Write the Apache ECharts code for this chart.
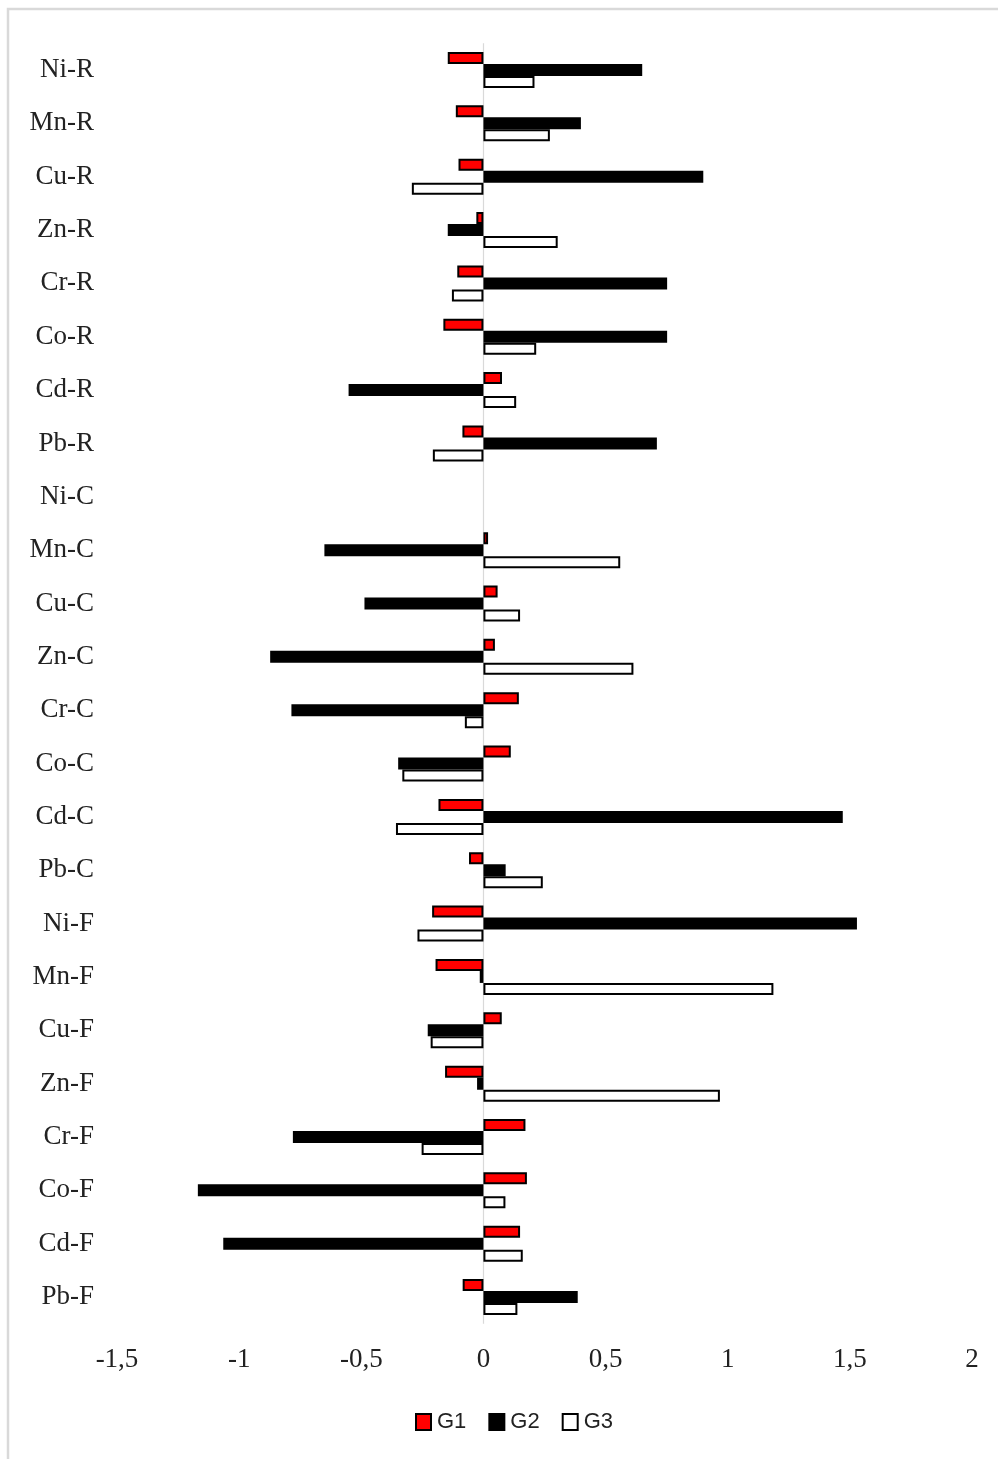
<!DOCTYPE html>
<html>
<head>
<meta charset="utf-8">
<title>G1 G2 G3</title>
<script src="https://cdn.jsdelivr.net/npm/echarts@6/dist/echarts.min.js"></script>
<style>
  html, body { margin: 0; padding: 0; background: #ffffff; }
  #chart { width: 998px; height: 1459px; }
</style>
</head>
<body>
<div id="chart"></div>
<script>
// Categories, listed top to bottom
const categories = ['Ni-R', 'Mn-R', 'Cu-R', 'Zn-R', 'Cr-R', 'Co-R', 'Cd-R', 'Pb-R',
  'Ni-C', 'Mn-C', 'Cu-C', 'Zn-C', 'Cr-C', 'Co-C', 'Cd-C', 'Pb-C',
  'Ni-F', 'Mn-F', 'Cu-F', 'Zn-F', 'Cr-F', 'Co-F', 'Cd-F', 'Pb-F'];

// Ni-C has no values in any group (null = no bar)
const g1 = [-0.146, -0.113, -0.102, -0.029, -0.107, -0.164, 0.076, -0.086,
  null, 0.019, 0.058, 0.047, 0.145, 0.112, -0.184, -0.059,
  -0.210, -0.196, 0.075, -0.157, 0.172, 0.178, 0.150, -0.085];

const g2 = [0.650, 0.399, 0.900, -0.146, 0.752, 0.752, -0.552, 0.710,
  null, -0.651, -0.487, -0.873, -0.786, -0.349, 1.471, 0.091,
  1.529, -0.015, -0.228, -0.026, -0.780, -1.169, -1.065, 0.386];

const g3 = [0.209, 0.272, -0.293, 0.304, -0.129, 0.216, 0.134, -0.207,
  null, 0.560, 0.150, 0.614, -0.076, -0.332, -0.358, 0.243,
  -0.270, 1.187, -0.216, 0.968, -0.253, 0.090, 0.161, 0.139];

const seriesNames = ['G1', 'G2', 'G3'];
const fills = ['#ff0000', '#000000', '#ffffff'];

// Value axis range
const xMin = -1.5, xMax = 2, xStep = 0.5;

const chart = echarts.init(document.getElementById('chart'), null, { renderer: 'canvas' });

const serif = '"Liberation Serif", "DejaVu Serif", serif';

function makeSeries(name, data, fill, idx) {
  const s = {
    name: name,
    type: 'bar',
    data: data,
    barWidth: 12,
    barGap: '0%',
    itemStyle: { color: fill, borderColor: '#000000', borderWidth: 2 },
    emphasis: { disabled: true },
    z: 3
  };
  if (idx === 0) {
    // vertical line at zero
    s.markLine = {
      silent: true,
      symbol: ['none', 'none'],
      label: { show: false },
      lineStyle: { color: '#d9d9d9', width: 1.2, type: 'solid' },
      data: [{ xAxis: 0 }],
      z: 1
    };
  }
  return s;
}

chart.setOption({
  animation: false,
  backgroundColor: '#ffffff',
  graphic: [{
    type: 'rect',
    shape: { x: 8, y: 9, width: 1200, height: 1700 },
    style: { fill: 'none', stroke: '#d9d9d9', lineWidth: 2.5 },
    silent: true,
    z: 0
  }],
  legend: {
    data: seriesNames,
    left: 415,
    top: 1411,
    padding: 0,
    icon: 'rect',
    itemWidth: 15,
    itemHeight: 16,
    itemGap: 22,
    itemStyle: { borderWidth: 2, borderColor: '#000000' },
    textStyle: { fontFamily: '"Liberation Sans", Arial, sans-serif', fontSize: 22, color: '#222222', padding: [0, 0, 0, 1] }
  },
  grid: { left: 117, right: 26, top: 43.3, bottom: 135.3, containLabel: false },
  xAxis: {
    type: 'value',
    min: xMin,
    max: xMax,
    interval: xStep,
    axisLine: { show: false },
    axisTick: { show: false },
    splitLine: { show: false },
    axisLabel: {
      margin: 23,
      fontFamily: serif,
      fontSize: 27,
      color: '#222222',
      formatter: function (v) { return String(v).replace('.', ','); }
    }
  },
  yAxis: {
    type: 'category',
    data: categories,
    inverse: true,
    axisLine: { show: false },
    axisTick: { show: false },
    splitLine: { show: false },
    axisLabel: {
      margin: 23,
      fontFamily: serif,
      fontSize: 27,
      color: '#222222',
      padding: [4, 0, 0, 0]
    }
  },
  series: [
    makeSeries(seriesNames[0], g1, fills[0], 0),
    makeSeries(seriesNames[1], g2, fills[1], 1),
    makeSeries(seriesNames[2], g3, fills[2], 2)
  ]
});
</script>
</body>
</html>
